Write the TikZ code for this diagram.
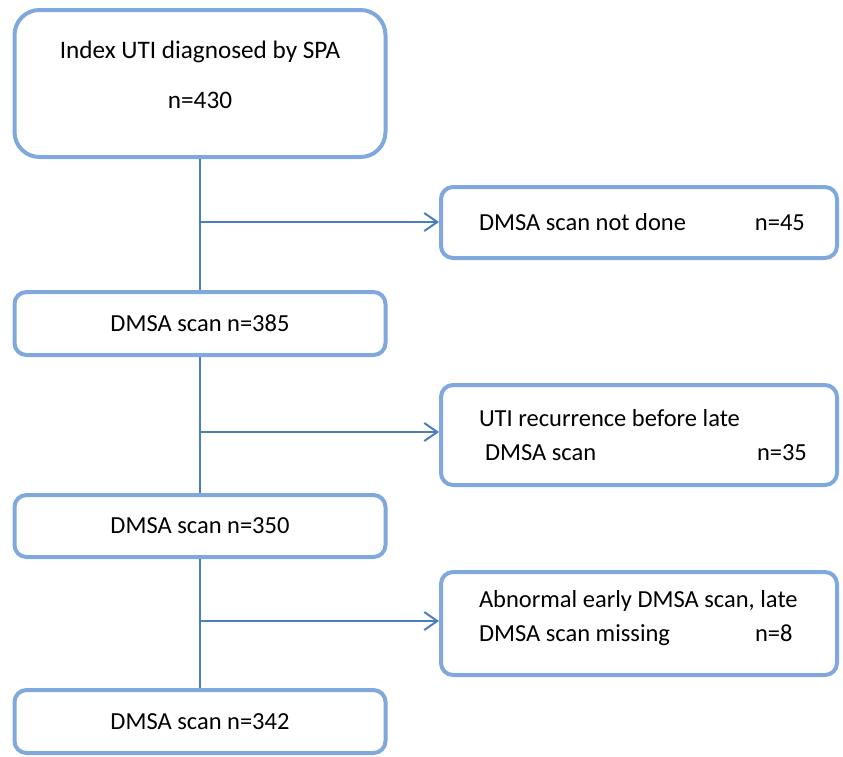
\documentclass[tikz,border=0pt]{standalone}
\usepackage{fontspec}
\setmainfont{Carlito}
\usetikzlibrary{arrows.meta}

\begin{document}
\begin{tikzpicture}[x=1pt,y=-1pt,
                box/.style={draw=boxLine, line width=4pt, rounded corners=12pt, inner sep=0pt,
                  font=\fontsize{24.5}{34}\selectfont},
                leftbox/.style={box, minimum width=371pt, align=center},
                rightbox/.style={box, minimum width=396pt, text width=320pt, align=flush left},
                flow/.style={draw=flowLine, line width=2pt},
                arr/.style={flow, -{Straight Barb[length=13pt,width=18pt]}}]
                \def\midx{200}
                \def\rightx{639}
                \definecolor{boxLine}{RGB}{128,168,222}
                \definecolor{flowLine}{RGB}{74,126,190}
                \useasboundingbox (0,0) rectangle (843,756);
                \node[leftbox, minimum height=147pt, rounded corners=25pt, font=\fontsize{25.2}{34}\selectfont] (uti) at (\midx,83.5)
                  {Index UTI diagnosed by SPA\\[16pt]n=430\rule[-17pt]{0pt}{0pt}};
                \node[rightbox, minimum height=71pt] (notdone) at (\rightx,222.5)
                  {\makebox[276pt][l]{DMSA scan not done}n=45};
                \node[leftbox, minimum height=63pt] (scanA) at (\midx,323.5) {DMSA scan n=385};
                \node[rightbox, minimum height=100pt] (recur) at (\rightx,435)
                  {\mbox{UTI recurrence before late}\\ \makebox[278pt][l]{\hspace*{6pt}DMSA scan}n=35};
                \node[leftbox, minimum height=62pt] (scanB) at (\midx,526) {DMSA scan n=350};
                \node[rightbox, minimum height=103pt] (missing) at (\rightx,623.5)
                  {\mbox{Abnormal early DMSA scan, late}\\ \makebox[276pt][l]{DMSA scan missing}n=8\rule[-16pt]{0pt}{0pt}};
                \node[leftbox, minimum height=63pt] (scanC) at (\midx,721.5) {DMSA scan n=342};
                \coordinate (jA) at (\midx,222);
                \coordinate (jB) at (\midx,432);
                \coordinate (jC) at (\midx,621);
                \draw[flow] (uti.south) -- (scanA.north);
                \draw[flow] (scanA.south) -- (scanB.north);
                \draw[flow] (scanB.south) -- (scanC.north);
                \draw[arr] (jA) -- (jA -| notdone.west);
                \draw[arr] (jB) -- (jB -| recur.west);
                \draw[arr] (jC) -- (jC -| missing.west);
              \end{tikzpicture}
\end{document}
